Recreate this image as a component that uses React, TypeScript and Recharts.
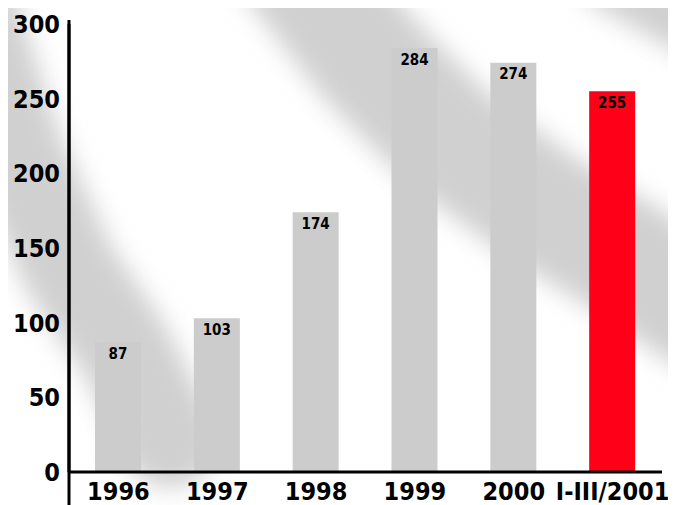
import React from 'react';
import { BarChart, Bar, XAxis, YAxis, Cell, LabelList } from 'recharts';

const periods = ['1996', '1997', '1998', '1999', '2000', 'I-III/2001'];
const amounts = [87, 103, 174, 284, 274, 255];
const yTicks = [0, 50, 100, 150, 200, 250, 300];

const data = periods.map((period, i) => ({ period, amount: amounts[i] }));

const FONT = '"DejaVu Sans Condensed", "DejaVu Sans", sans-serif';
const GREY = '#cccccc';
const HIGHLIGHT = '#ff0019';

// soft diagonal streaks behind the plot
const Backdrop: React.FC = () => (
  <svg width={676} height={505} style={{ position: 'absolute', left: 0, top: 0 }}>
    <defs>
      <filter id="soft" x="-20%" y="-20%" width="140%" height="140%">
        <feGaussianBlur stdDeviation="12" />
      </filter>
    </defs>
    <g filter="url(#soft)" fill="none" stroke="#d0d0d0" strokeLinecap="round">
      <polyline points="-30,10 15,150 70,270 125,350 170,440" strokeWidth={95} />
      <polyline points="300,-30 370,60 450,140 545,210 620,255 700,310" strokeWidth={120} />
      <polyline points="610,-20 700,30" strokeWidth={60} />
    </g>
  </svg>
);

const App: React.FC = () => {
  return (
    <div style={{ position: 'relative', width: 676, height: 505, margin: '-8px 0 0 -8px', background: '#fff' }}>
      <Backdrop />
      <div style={{ position: 'absolute', left: 0, top: 0 }}>
        <BarChart
          width={676}
          height={505}
          data={data}
          margin={{ top: 24, right: 14, bottom: 0, left: 0 }}
          barCategoryGap={0}
        >
          <text x={95} y={-4} fill={HIGHLIGHT} fontFamily={FONT} fontWeight="bold" fontSize={22}>
            (broj zahtjeva u tisućama)
          </text>
          <XAxis
            dataKey="period"
            height={33}
            axisLine={{ stroke: '#000', strokeWidth: 3 }}
            tickLine={false}
            tickSize={0}
            tickMargin={10}
            interval={0}
            tick={{ fill: '#000', fontFamily: FONT, fontWeight: 'bold', fontSize: 25 }}
          />
          <YAxis
            width={69}
            domain={[0, 300]}
            ticks={yTicks}
            axisLine={{ stroke: '#000', strokeWidth: 3 }}
            tickLine={false}
            tickSize={0}
            tickMargin={9}
            tick={{ fill: '#000', fontFamily: FONT, fontWeight: 'bold', fontSize: 25 }}
          />
          <Bar dataKey="amount" barSize={46} isAnimationActive={false}>
            {data.map((d, i) => (
              <Cell key={d.period} fill={i === data.length - 1 ? HIGHLIGHT : GREY} />
            ))}
            <LabelList
              dataKey="amount"
              position="insideTop"
              offset={6}
              fill="#000"
              fontFamily={FONT}
              fontWeight="bold"
              fontSize={15}
            />
          </Bar>
        </BarChart>
      </div>
      {/* y-axis runs on past the category axis */}
      <svg width={676} height={505} style={{ position: 'absolute', left: 0, top: 0, pointerEvents: 'none' }}>
        <line x1={69} y1={20} x2={69} y2={505} stroke="#000" strokeWidth={3} />
      </svg>
    </div>
  );
};

export default App;
